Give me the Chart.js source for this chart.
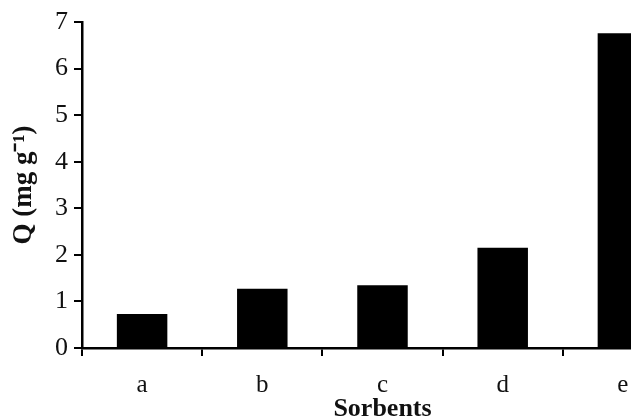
<!DOCTYPE html>
<html>
<head>
<meta charset="utf-8">
<script src="https://cdn.jsdelivr.net/npm/chart.js@4.4.0/dist/chart.umd.min.js"></script>
<style>
  body { margin: 0; overflow: hidden; background: #fff; }
  #wrap { width: 700px; height: 419px; position: relative; }
</style>
</head>
<body>
<div id="wrap"><canvas id="myChart"></canvas></div>
<script>
// data
var sorbents = ['a', 'b', 'c', 'd', 'e'];
var capacity = [0.73, 1.27, 1.35, 2.15, 6.76];
var yTicks = [0, 1, 2, 3, 4, 5, 6, 7];

var serif = "'Liberation Serif', 'Times New Roman', serif";

const data = {
    labels: sorbents,
    datasets: [{
        label: 'Q',
        backgroundColor: '#000',
        borderWidth: 0,
        data: capacity,
        barPercentage: 0.42,
        categoryPercentage: 1
    }]
};

const config = {
    type: 'bar',
    data: data,
    options: {
        responsive: true,
        maintainAspectRatio: false,
        animation: false,
        layout: { padding: { top: 22, right: 17, left: 0, bottom: 0 } },
        plugins: { legend: { display: false }, tooltip: { enabled: false } },
        scales: {
            x: {
                grid: { offset: true, drawOnChartArea: false, color: '#000', lineWidth: 2, tickLength: 8 },
                border: { color: '#000', width: 2.5 },
                ticks: { color: '#111', font: { family: serif, size: 25 }, padding: 14 },
                title: {
                    display: true, text: 'Sorbents', color: '#111',
                    font: { family: serif, size: 26, weight: 'bold', lineHeight: 1 },
                    padding: { top: 0, bottom: -3 }
                },
                afterFit: function (s) { s.height = 71; }
            },
            y: {
                min: 0,
                max: yTicks[yTicks.length - 1],
                afterBuildTicks: function (s) { s.ticks = yTicks.map(v => ({ value: v })); },
                grid: { drawOnChartArea: false, color: '#000', lineWidth: 2, tickLength: 8 },
                border: { color: '#000', width: 2.5 },
                ticks: { color: '#111', font: { family: serif, size: 26 }, padding: 6 },
                title: {
                    display: true, text: 'Q (mg g\u207B\u00B9)', color: '#111',
                    font: { family: serif, size: 27, weight: 'bold', lineHeight: 1 },
                    padding: { top: 11, bottom: 0 }
                },
                afterFit: function (s) { s.width = 82; }
            }
        }
    }
};

const myChart = new Chart(document.getElementById('myChart'), config);
</script>
</body>
</html>
